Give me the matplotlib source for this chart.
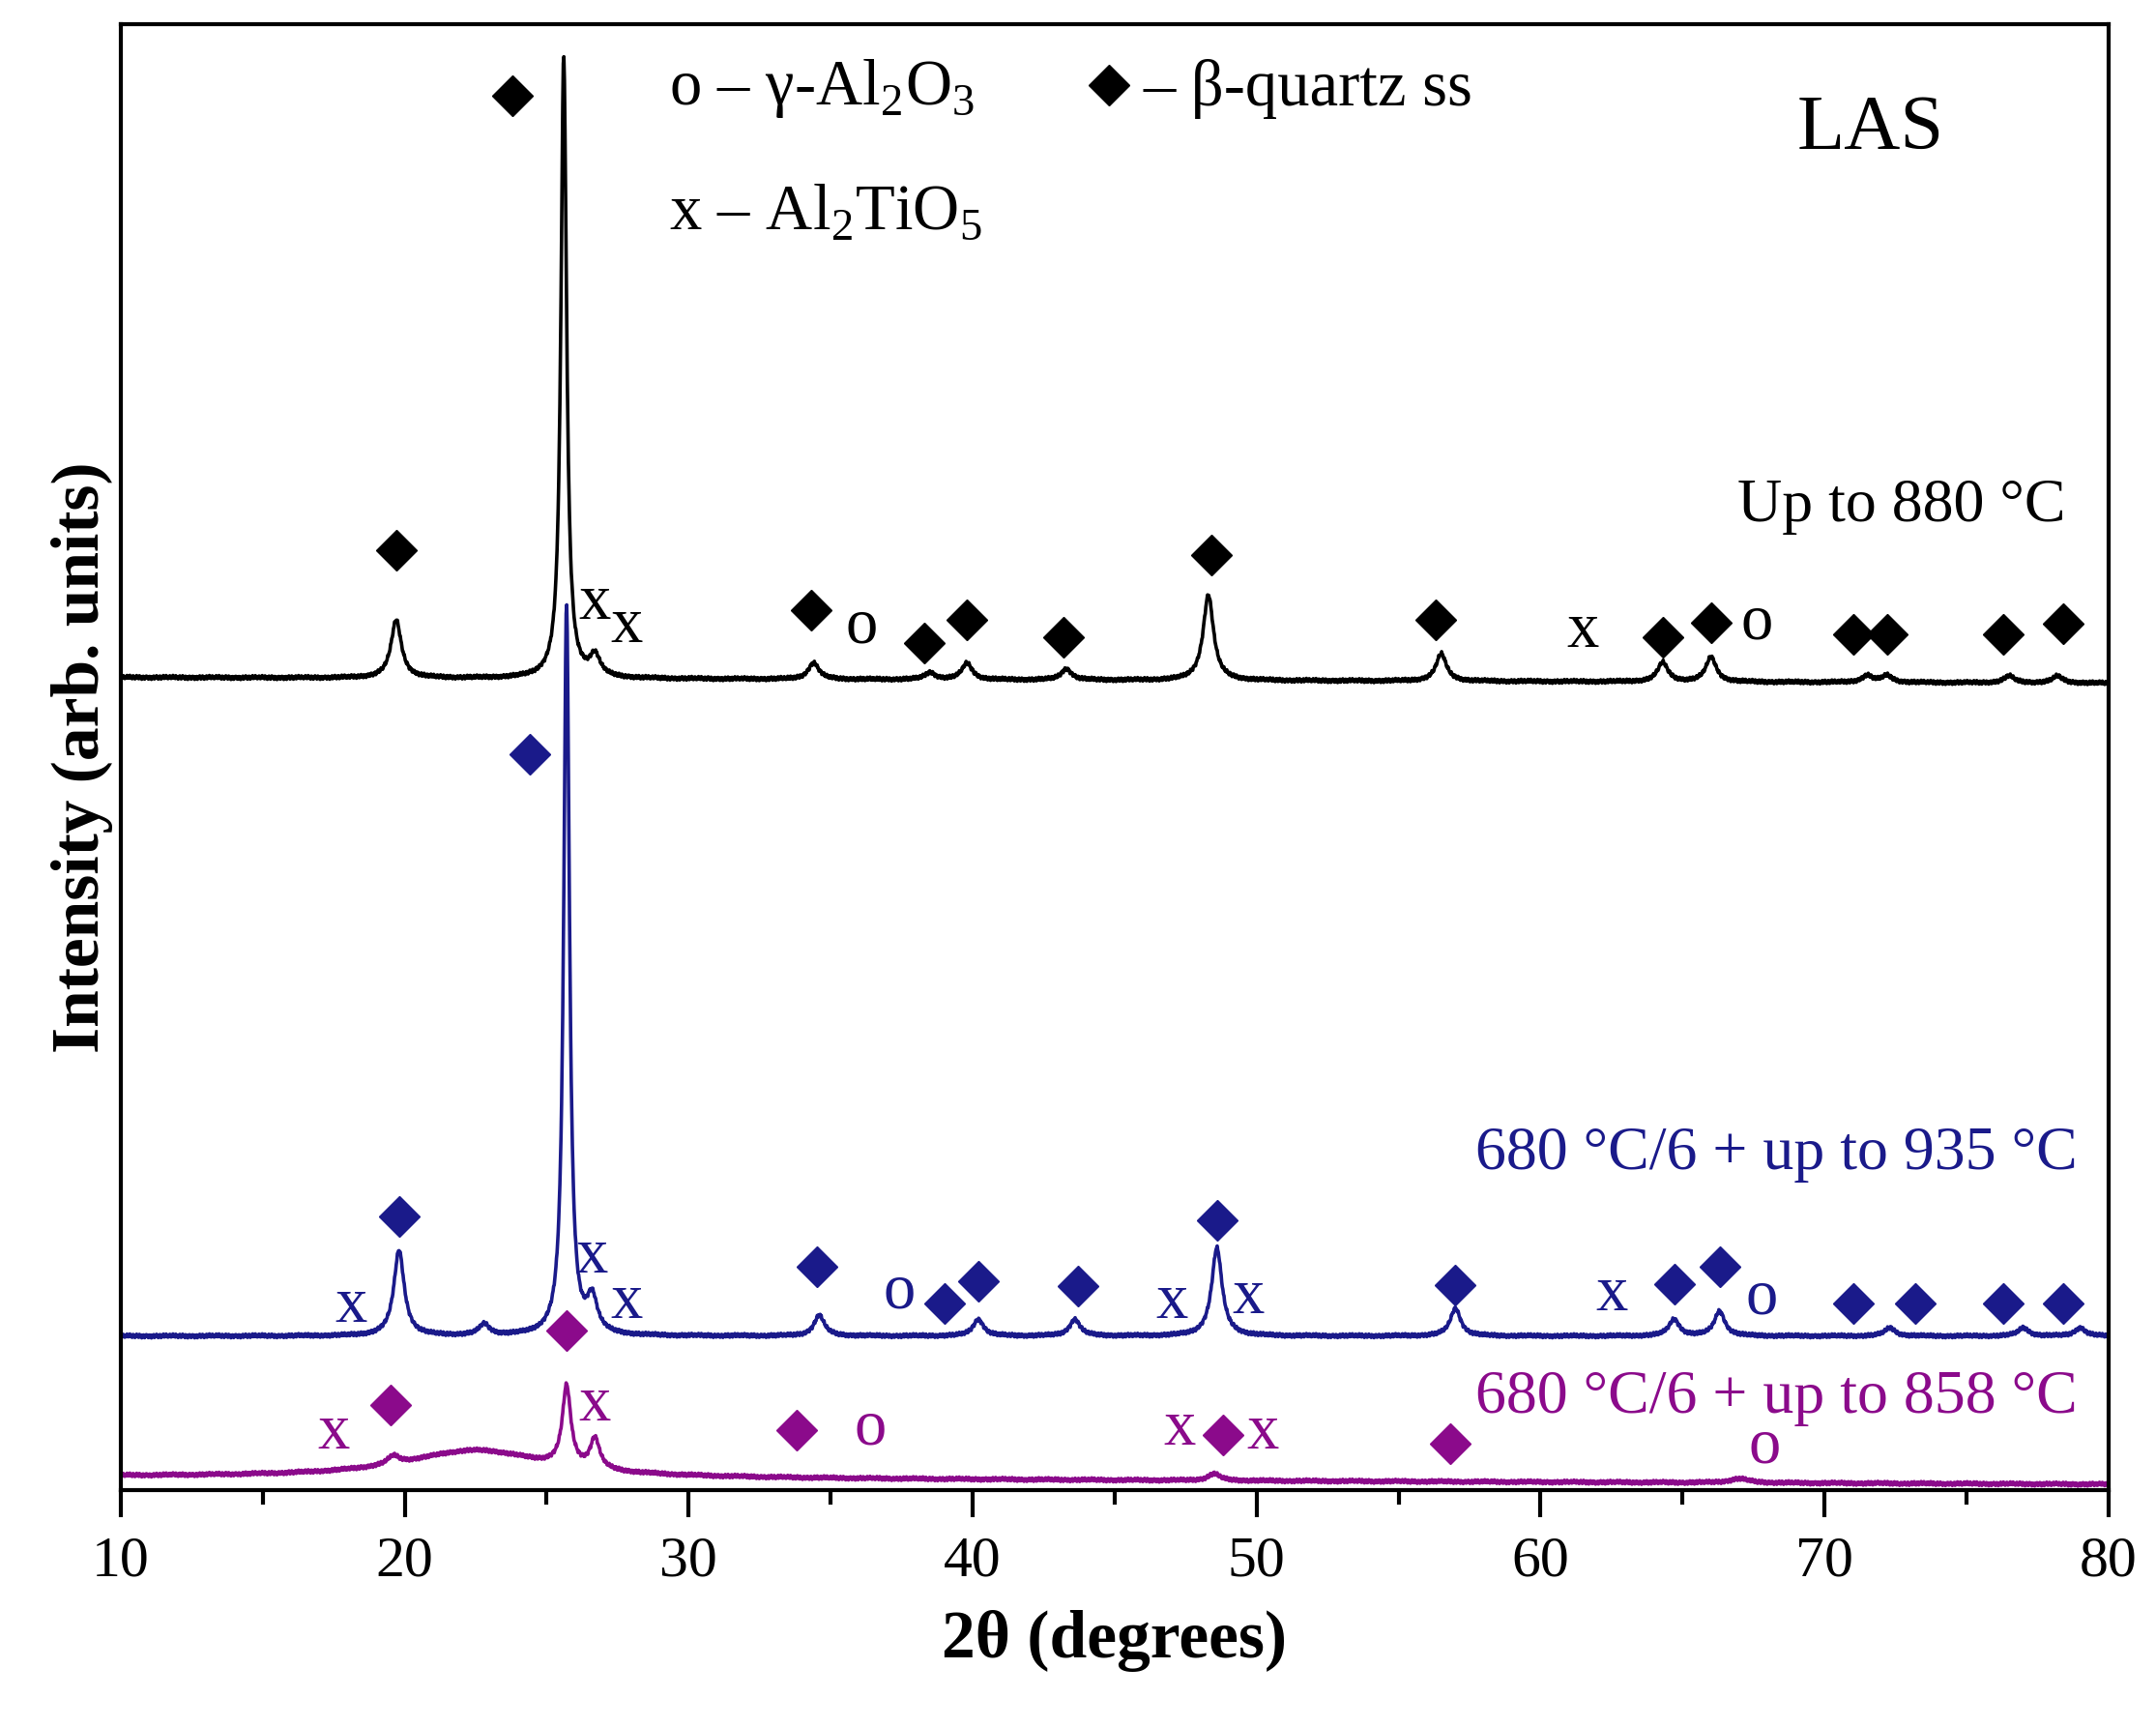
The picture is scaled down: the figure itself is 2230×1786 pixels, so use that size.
import numpy as np
import matplotlib
matplotlib.use("Agg")
import matplotlib.pyplot as plt

FONT = "Liberation Serif"
plt.rcParams["font.family"] = FONT
plt.rcParams["mathtext.fontset"] = "custom"
plt.rcParams["mathtext.rm"] = FONT

# Pattern descriptions: baseline offset and peaks (position, height, width)
black_base = 590
black_peaks_pos = [19.7, 25.6, 26.7, 34.4, 38.5, 39.8, 43.3, 48.3, 56.5, 64.3, 66.0, 71.5, 72.2, 76.5, 78.2]
black_peaks_h   = [42, 452, 15, 12, 5, 12, 8, 62, 20, 14, 18, 5, 5, 5, 5]
blue_base = 112
blue_peaks_pos = [19.8, 22.8, 25.7, 26.6, 34.6, 40.2, 43.6, 48.6, 57.0, 64.7, 66.3, 72.3, 77.0, 79.0]
blue_peaks_h   = [62, 8, 530, 25, 15, 12, 12, 64, 20, 12, 18, 6, 6, 6]
mag_base = 10
mag_peaks_pos = [19.6, 22.5, 25.7, 26.7, 48.5, 67.0]
mag_peaks_h   = [6, 20, 58, 22, 5, 3]
mag_peaks_w   = [0.25, 3.0, 0.18, 0.2, 0.25, 0.4]

# Annotations: (symbol, 2theta, y)
black_marks = [("D", 23.8, 1012), ("D", 19.7, 682), ("x", 26.7, 644), ("x", 27.8, 627),
               ("D", 34.3, 639), ("o", 36.1, 627), ("D", 38.3, 615), ("D", 39.8, 632),
               ("D", 43.2, 619), ("D", 48.4, 679), ("D", 56.3, 632), ("x", 61.5, 624),
               ("D", 64.3, 619), ("D", 66.0, 630), ("o", 67.6, 630), ("D", 71.0, 621),
               ("D", 72.2, 621), ("D", 76.3, 621), ("D", 78.4, 629)]
blue_marks = [("D", 24.4, 534), ("D", 19.8, 199), ("x", 18.1, 134), ("x", 26.6, 170),
              ("x", 27.8, 137), ("D", 34.5, 162), ("o", 37.4, 144), ("D", 39.0, 136),
              ("D", 40.2, 152), ("D", 43.7, 148), ("x", 47.0, 137), ("D", 48.6, 196),
              ("x", 49.7, 140), ("D", 57.0, 149), ("x", 62.5, 142), ("D", 64.7, 150),
              ("D", 66.3, 162), ("o", 67.8, 140), ("D", 71.0, 136), ("D", 73.2, 136),
              ("D", 76.3, 136), ("D", 78.4, 136)]
mag_marks = [("D", 25.7, 116), ("x", 26.7, 62), ("D", 19.5, 62), ("x", 17.5, 42),
             ("D", 33.8, 44), ("o", 36.4, 45), ("x", 47.3, 45), ("D", 48.8, 40),
             ("x", 50.2, 42), ("D", 56.8, 34), ("o", 67.9, 32)]

BLACK, BLUE, MAG = "black", "#1a1a8a", "#8b0a8b"

x = np.linspace(10, 80, 3500)

def pattern(base, pos, h, w=None, slope=0.0):
    y = np.full_like(x, float(base)) + slope * (x - 10)
    for i, (p, hh) in enumerate(zip(pos, h)):
        ww = w[i] if w is not None else (0.12 if hh > 200 else 0.22)
        y += hh / (1 + ((x - p) / ww) ** 2)
    # deterministic small ripple to mimic counting noise
    y += 1.5 * np.sin(x * 37.0) * np.cos(x * 91.0)
    return y

fig = plt.figure(figsize=(22.3, 17.86), dpi=100)
ax = fig.add_axes([0.056, 0.137, 0.922, 0.849])

ax.plot(x, pattern(black_base, black_peaks_pos, black_peaks_h, slope=-0.06), color=BLACK, lw=2.6)
ax.plot(x, pattern(blue_base, blue_peaks_pos, blue_peaks_h, slope=0.0), color=BLUE, lw=2.6)
ax.plot(x, pattern(mag_base, mag_peaks_pos, mag_peaks_h, mag_peaks_w, slope=-0.08), color=MAG, lw=2.6)

for marks, c in [(black_marks, BLACK), (blue_marks, BLUE), (mag_marks, MAG)]:
    for s, px, py in marks:
        if s == "D":
            ax.plot(px, py, marker="D", ms=21, color=c, mec=c)
        else:
            ax.text(px, py, s, color=c, fontsize=48, ha="center", va="center")

ax.text(78.5, 714, "Up to 880 °C", fontsize=46, ha="right", va="center", color=BLACK)
ax.text(78.9, 244, "680 °C/6 + up to 935 °C", fontsize=46, ha="right", va="center", color=BLUE)
ax.text(78.9, 67, "680 °C/6 + up to 858 °C", fontsize=46, ha="right", va="center", color=MAG)
ax.text(71.6, 987, "LAS", fontsize=58, ha="center", va="center")
ax.text(29.3, 1017, r"o – γ-Al$_2$O$_3$", fontsize=48, ha="left", va="center")
ax.plot(44.8, 1020, marker="D", ms=21, color=BLACK)
ax.text(46.0, 1017, "– β-quartz ss", fontsize=48, ha="left", va="center")
ax.text(29.3, 927, r"x – Al$_2$TiO$_5$", fontsize=48, ha="left", va="center")

ax.set_xlim(10, 80)
ax.set_ylim(0, 1064)
ax.set_yticks([])
ax.set_xticks(range(10, 81, 10))
ax.set_xticks(range(15, 80, 10), minor=True)
ax.tick_params(axis="x", which="major", direction="out", length=20, width=3, labelsize=43, pad=14)
ax.tick_params(axis="x", which="minor", direction="out", length=11, width=3)
for sp in ax.spines.values():
    sp.set_linewidth(3)
ax.set_xlabel("2θ (degrees)", fontsize=50, fontweight="bold", labelpad=16)
ax.set_ylabel("Intensity (arb. units)", fontsize=50, fontweight="bold", labelpad=6)

fig.savefig("out.png", dpi=100)
